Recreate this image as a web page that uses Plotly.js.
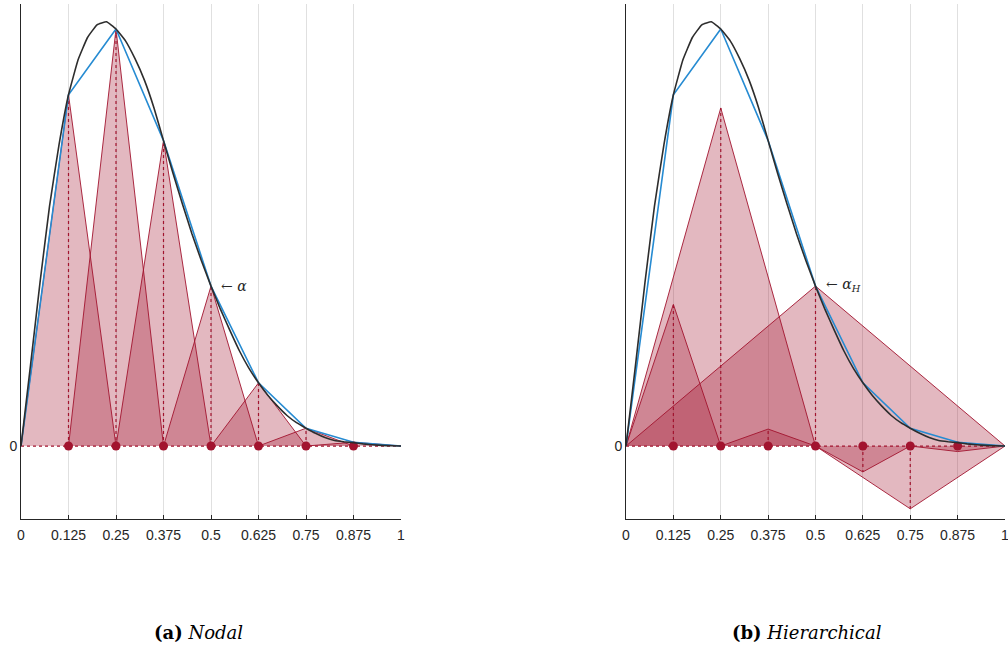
<!DOCTYPE html>
<html>
<head>
<meta charset="utf-8">
<script src="https://cdn.plot.ly/plotly-3.0.1.min.js"></script>
<style>
  html, body { margin: 0; padding: 0; background: #ffffff; }
  #chart { width: 1008px; height: 649px; }
</style>
</head>
<body>
<div id="chart"></div>
<script>
// Grid nodes on [0, 1] (level 3, interior points)
const nodes = [0.125, 0.25, 0.375, 0.5, 0.625, 0.75, 0.875];

// Nodal coefficients: function values at the nodes
const nodalValues = [0.828, 0.983, 0.720, 0.377, 0.149, 0.042, 0.009];

// Hierarchical surpluses and the level of each node
const hierValues = [0.334, 0.797, 0.040, 0.377, -0.061, -0.148, -0.013];
const hierLevels = [3, 2, 3, 1, 3, 2, 3];

// The underlying function, sampled
const curveX = [0, 0.025, 0.05, 0.075, 0.1, 0.125, 0.15, 0.175, 0.2, 0.225, 0.25, 0.275, 0.3, 0.325, 0.35,
                0.375, 0.4, 0.425, 0.45, 0.475, 0.5, 0.525, 0.55, 0.575, 0.6, 0.625, 0.65, 0.675, 0.7,
                0.725, 0.75, 0.775, 0.8, 0.825, 0.85, 0.875, 0.9, 0.925, 0.95, 0.975, 1.0];
const curveY = [0, 0.19, 0.385, 0.565, 0.71, 0.828, 0.910, 0.963, 0.993, 1.0, 0.983, 0.955, 0.913, 0.862, 0.797,
                0.720, 0.643, 0.570, 0.500, 0.436, 0.377, 0.322, 0.272, 0.224, 0.183, 0.149, 0.119, 0.094, 0.072,
                0.055, 0.042, 0.030, 0.020, 0.013, 0.010, 0.008, 0.005, 0.003, 0.0015, 0.0005, 0];

// Axis ticks
const tickValues = [0, 0.125, 0.25, 0.375, 0.5, 0.625, 0.75, 0.875, 1];
const tickLabels = ['0', '0.125', '0.25', '0.375', '0.5', '0.625', '0.75', '0.875', '1'];

const RED = 'rgb(162,20,47)';
const PINK = 'rgba(162,20,47,0.3)';
const BLUE = 'rgb(38,139,210)';
const DARK = 'rgb(45,45,45)';

function panelTraces(values, halfWidths, xa, ya) {
  const traces = [];
  // hat basis functions scaled by their coefficients
  nodes.forEach((n, i) => {
    const h = halfWidths[i];
    traces.push({
      x: [n - h, n, n + h], y: [0, values[i], 0],
      xaxis: xa, yaxis: ya, mode: 'lines', fill: 'toself',
      fillcolor: PINK, line: { color: RED, width: 0.9 },
      hoverinfo: 'skip', showlegend: false
    });
  });
  // dotted stems from the axis to each coefficient
  const sx = [], sy = [];
  nodes.forEach((n, i) => { sx.push(n, n, null); sy.push(0, values[i], null); });
  traces.push({
    x: sx, y: sy, xaxis: xa, yaxis: ya, mode: 'lines',
    line: { color: RED, width: 1.2, dash: 'dot' }, showlegend: false, hoverinfo: 'skip'
  });
  // dotted zero line
  traces.push({
    x: [0, 1], y: [0, 0], xaxis: xa, yaxis: ya, mode: 'lines',
    line: { color: RED, width: 1.2, dash: 'dot' }, showlegend: false, hoverinfo: 'skip'
  });
  // node markers
  traces.push({
    x: nodes, y: nodes.map(() => 0), xaxis: xa, yaxis: ya, mode: 'markers',
    marker: { color: RED, size: 9 }, showlegend: false, hoverinfo: 'skip'
  });
  // piecewise linear interpolant
  traces.push({
    x: [0].concat(nodes, [1]), y: [0].concat(nodalValues, [0]),
    xaxis: xa, yaxis: ya, mode: 'lines',
    line: { color: BLUE, width: 1.6 }, showlegend: false, hoverinfo: 'skip'
  });
  // function
  traces.push({
    x: curveX, y: curveY, xaxis: xa, yaxis: ya, mode: 'lines',
    line: { color: DARK, width: 1.6, shape: 'spline', smoothing: 0.3 },
    showlegend: false, hoverinfo: 'skip'
  });
  return traces;
}

const nodalHalf = nodes.map(() => 0.125);
const hierHalf = hierLevels.map(l => Math.pow(2, -l));

const data = panelTraces(nodalValues, nodalHalf, 'x', 'y')
  .concat(panelTraces(hierValues, hierHalf, 'x2', 'y2'));

const tickFont = { family: 'Liberation Sans, Arial, sans-serif', size: 14, color: 'rgb(38,38,38)' };

const xCommon = {
  range: [0, 1], tickmode: 'array', tickvals: tickValues, ticktext: tickLabels,
  showgrid: true, gridcolor: 'rgb(224,224,224)', gridwidth: 1,
  ticks: 'inside', ticklen: 4, tickcolor: 'rgb(38,38,38)',
  showline: true, linecolor: 'rgb(38,38,38)', linewidth: 1,
  zeroline: false, fixedrange: true,
  ticklabelstandoff: 3, tickfont: tickFont
};
const yCommon = {
  range: [-0.172, 1.042], tickmode: 'array', tickvals: [0], ticktext: ['0'],
  showgrid: false, ticks: '', showline: true, linecolor: 'rgb(38,38,38)', linewidth: 1,
  zeroline: false, fixedrange: true,
  tickfont: tickFont, domain: [130 / 649, 645 / 649]
};

// the right panel's last label sits on the page edge, so it is placed as an annotation
const rightLabels = tickLabels.slice(0, -1).concat(['']);

const layout = {
  width: 1008, height: 649,
  margin: { l: 0, r: 0, t: 0, b: 0 },
  paper_bgcolor: '#ffffff', plot_bgcolor: '#ffffff',
  showlegend: false,
  xaxis: Object.assign({}, xCommon, { domain: [21 / 1008, 401 / 1008], anchor: 'y' }),
  yaxis: Object.assign({}, yCommon, { anchor: 'x' }),
  xaxis2: Object.assign({}, xCommon, { domain: [626 / 1008, 1005 / 1008], anchor: 'y2', ticktext: rightLabels }),
  yaxis2: Object.assign({}, yCommon, { anchor: 'x2' }),
  annotations: [
    {
      xref: 'x2', yref: 'paper', x: tickValues[tickValues.length - 1], y: 1 - 535 / 649,
      xanchor: 'center', yanchor: 'middle', text: tickLabels[tickLabels.length - 1],
      showarrow: false, font: tickFont
    },
    {
      xref: 'x', yref: 'y', x: nodes[3], y: nodalValues[3], xanchor: 'left', yanchor: 'middle',
      xshift: 8, text: '← <i>α</i>', showarrow: false,
      font: { family: 'DejaVu Serif, serif', size: 14, color: 'rgb(38,38,38)' }
    },
    {
      xref: 'x2', yref: 'y2', x: nodes[3], y: hierValues[3], xanchor: 'left', yanchor: 'middle',
      xshift: 8, yshift: 1, text: '← <i>α</i><sub><i>H</i></sub>', showarrow: false,
      font: { family: 'DejaVu Serif, serif', size: 14, color: 'rgb(38,38,38)' }
    },
    {
      xref: 'paper', yref: 'paper', x: 198 / 1008, y: 1 - 632 / 649, xanchor: 'center', yanchor: 'middle',
      text: '<b>(a)</b> <i>Nodal</i>', showarrow: false,
      font: { family: 'DejaVu Serif, serif', size: 18, color: '#000000' }
    },
    {
      xref: 'paper', yref: 'paper', x: 807 / 1008, y: 1 - 632 / 649, xanchor: 'center', yanchor: 'middle',
      text: '<b>(b)</b> <i>Hierarchical</i>', showarrow: false,
      font: { family: 'DejaVu Serif, serif', size: 18, color: '#000000' }
    }
  ]
};

Plotly.newPlot('chart', data, layout, { displayModeBar: false, staticPlot: true });
</script>
</body>
</html>
